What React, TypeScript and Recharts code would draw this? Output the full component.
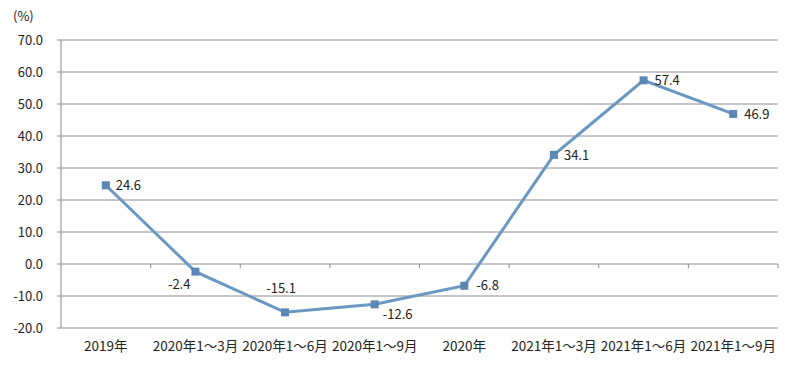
import { LineChart, Line, XAxis, YAxis, CartesianGrid, ReferenceLine, LabelList } from 'recharts'

const categories = ['2019年', '2020年1～3月', '2020年1～6月', '2020年1～9月', '2020年', '2021年1～3月', '2021年1～6月', '2021年1～9月']
const growth = [24.6, -2.4, -15.1, -12.6, -6.8, 34.1, 57.4, 46.9]
const yTicks = [-20, -10, 0, 10, 20, 30, 40, 50, 60, 70]

// where each value label sits relative to its point: [dx, dy, anchor]
const labelPlacement: [number, number, string][] = [
  [10, 0, 'start'],
  [-5, 13, 'end'],
  [-4, -24, 'middle'],
  [8, 10, 'start'],
  [12, 0, 'start'],
  [10, 1, 'start'],
  [11, 0, 'start'],
  [11, 1, 'start'],
]

const data = growth.map((v, i) => ({ x: i + 0.5, value: v, name: categories[i] }))
const boundaries = categories.map((_, i) => i + 1)

const FONT = '"Noto Sans CJK SC", "Noto Sans", sans-serif'
const GRID = '#8c8c8c'
const LINE = '#6b98c2'
const MARK = '#5b87b6'

function SquareDot(props: any) {
  const { cx, cy } = props
  if (cx == null || cy == null) return null
  return <rect x={cx - 4} y={cy - 4} width={8} height={8} fill={MARK} />
}

function ValueLabel(props: any) {
  const { x, y, value, index } = props
  const [dx, dy, anchor] = labelPlacement[index] || [10, 0, 'start']
  return (
    <text x={x + dx} y={y + dy} dy="0.35em" textAnchor={anchor} fontSize={13} fill="#222" fontFamily={FONT}>
      {value.toFixed(1)}
    </text>
  )
}

export default function App() {
  return (
    <div style={{ position: 'absolute', left: 0, top: 0, width: 793, height: 372, background: '#fff' }}>
      <div style={{ position: 'absolute', left: 13, top: 6, fontSize: 13, color: '#222', fontFamily: FONT }}>(%)</div>
      <LineChart width={793} height={372} data={data} margin={{ top: 40, right: 15, bottom: 14, left: 0 }}>
        <CartesianGrid vertical={false} stroke={GRID} strokeWidth={1} />
        <XAxis
          dataKey="x"
          type="number"
          domain={[0, 8]}
          ticks={data.map((d) => d.x)}
          tickFormatter={(v: number) => categories[Math.floor(v)]}
          axisLine={false}
          tickLine={false}
          tickSize={0}
          tickMargin={13}
          height={30}
          interval={0}
          tick={{ fontSize: 13.5, fill: '#222', fontFamily: FONT }}
        />
        <YAxis
          domain={[-20, 70]}
          ticks={yTicks}
          width={61}
          tickFormatter={(v: number) => v.toFixed(1)}
          axisLine={{ stroke: GRID }}
          tickLine={{ stroke: GRID }}
          tickSize={4}
          tickMargin={14}
          tick={{ fontSize: 13, fill: '#222', fontFamily: FONT }}
        />
        {boundaries.map((b) => (
          <ReferenceLine key={b} segment={[{ x: b, y: 0 }, { x: b, y: -1.3 }]} stroke={GRID} />
        ))}
        <Line
          type="linear"
          dataKey="value"
          stroke={LINE}
          strokeWidth={3}
          dot={<SquareDot />}
          activeDot={false}
          isAnimationActive={false}
        >
          <LabelList dataKey="value" content={<ValueLabel />} />
        </Line>
      </LineChart>
    </div>
  )
}
